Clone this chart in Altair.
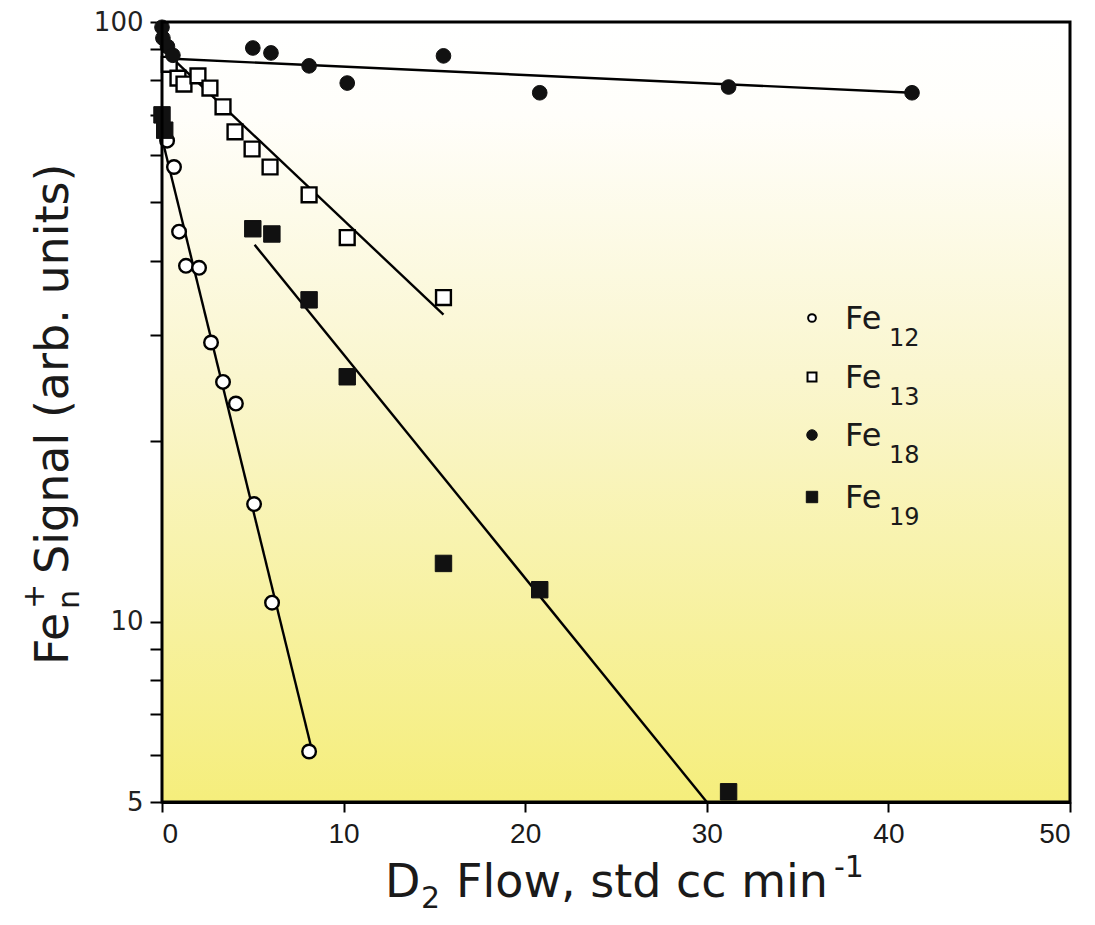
import altair as alt
import pandas as pd

# ---------------- data ----------------
fe12_x = [0.28, 0.66, 0.94, 1.32, 2.04, 2.7, 3.36, 4.07, 5.07, 6.06, 8.1]
fe12_y = [63.4, 57.3, 44.7, 39.2, 38.9, 29.2, 25.1, 23.1, 15.7, 10.75, 6.07]

fe13_x = [0.4, 0.88, 1.21, 1.98, 2.64, 3.36, 4.02, 4.96, 5.95, 8.1, 10.2, 15.5]
fe13_y = [85, 80.6, 78.8, 81.3, 77.6, 72.2, 65.6, 61.4, 57.3, 51.5, 43.7, 34.7]

fe18_x = [0, 0.05, 0.3, 0.6, 5.0, 6.0, 8.1, 10.2, 15.5, 20.8, 31.2, 41.3]
fe18_y = [98, 94, 91, 88, 90.5, 88.8, 84.5, 79.1, 87.8, 76.2, 77.9, 76.2]

fe19_x = [0, 0.15, 5.0, 6.05, 8.1, 10.2, 15.5, 20.8, 31.2]
fe19_y = [70, 66, 45.2, 44.3, 34.4, 25.6, 12.5, 11.3, 5.2]

# fitted lines (end points)
fit12_x = [0.0, 8.2]
fit12_y = [64, 6.2]
fit13_x = [0.5, 15.5]
fit13_y = [87.4, 32.5]
fit18_x = [0.0, 41.3]
fit18_y = [87, 76.2]
fit19_x = [5.1, 30.0]
fit19_y = [42.5, 5.0]

x_ticks = [0, 10, 20, 30, 40, 50]
y_ticks = [5, 6, 7, 8, 9, 10, 20, 30, 40, 50, 60, 70, 80, 90, 100]

legend_subs = ["12", "13", "18", "19"]

# ---------------- tables ----------------
def mk(name, xs, ys):
    return pd.DataFrame({"series": name, "x": xs, "y": ys})

pts = pd.concat([mk("Fe12", fe12_x, fe12_y), mk("Fe13", fe13_x, fe13_y),
                 mk("Fe18", fe18_x, fe18_y), mk("Fe19", fe19_x, fe19_y)])
fits = pd.concat([mk("Fe12", fit12_x, fit12_y), mk("Fe13", fit13_x, fit13_y),
                  mk("Fe18", fit18_x, fit18_y), mk("Fe19", fit19_x, fit19_y)])

W, H = 908, 780
FONT = "DejaVu Sans"
INK = "#1a1a1a"

xscale = alt.Scale(domain=[0, 50], nice=False, zero=False)
yscale = alt.Scale(type="log", domain=[5, 100], nice=False)

X = alt.X("x:Q", scale=xscale,
          axis=alt.Axis(values=x_ticks, title=None, grid=False, tickSize=10, tickWidth=2,
                        tickColor="black", domainColor="black", domainWidth=3,
                        labelFont="Liberation Sans Narrow, Liberation Sans, sans-serif",
                        labelFontSize=28, labelColor=INK, labelPadding=8))
Y = alt.Y("y:Q", scale=yscale,
          axis=alt.Axis(values=y_ticks, title=None, grid=False, tickSize=12, tickWidth=2,
                        tickColor="black", domainColor="black", domainWidth=3,
                        labelExpr="indexof([5,10,100], datum.value) >= 0 ? format(datum.value, 'd') : ''",
                        labelFont=FONT, labelFontSize=26, labelColor="#222", labelPadding=7))

one = alt.Data(values=[{"a": 1}])

bg = alt.Chart(one).mark_rect(
    color=alt.Gradient(gradient="linear", x1=0, x2=0, y1=0, y2=1,
                       stops=[alt.GradientStop(offset=0, color="#ffffff"),
                              alt.GradientStop(offset=0.12, color="#fffefa"),
                              alt.GradientStop(offset=0.45, color="#faf6cf"),
                              alt.GradientStop(offset=1, color="#f5ee7c")])
).encode(x=alt.value(0), x2=alt.value(W), y=alt.value(0), y2=alt.value(H))

frame = alt.Chart(one).mark_rect(fillOpacity=0, stroke="black", strokeWidth=3).encode(
    x=alt.value(0), x2=alt.value(W), y=alt.value(0), y2=alt.value(H))

lines = alt.Chart(fits).mark_line(color="black", strokeWidth=2.4).encode(
    x=X, y=Y, detail="series:N")

def pts_layer(name, shape, open_, size):
    base = alt.Chart(pts).transform_filter(alt.datum.series == name)
    if open_:
        m = base.mark_point(shape=shape, filled=True, fill="white", fillOpacity=1,
                            stroke="black", strokeWidth=2.4, size=size, opacity=1)
    else:
        m = base.mark_point(shape=shape, filled=True, fill="#111", fillOpacity=1,
                            stroke="#111", strokeWidth=1, size=size, opacity=1)
    return m.encode(x=X, y=Y)

p12 = pts_layer("Fe12", "circle", True, 185)
p13 = pts_layer("Fe13", "square", True, 220)
p18 = pts_layer("Fe18", "circle", False, 215)
p19 = pts_layer("Fe19", "square", False, 270)

# ---------------- legend ----------------
leg_shapes = [("circle", True, 60), ("square", True, 80), ("circle", False, 110), ("square", False, 130)]
leg_marker_y = [296, 355, 413, 475]
leg_layers = []
for i, sub in enumerate(legend_subs):
    shp, op, sz = leg_shapes[i]
    if op:
        mkr = alt.Chart(one).mark_point(shape=shp, filled=True, fill="white", stroke="black",
                                        strokeWidth=2, size=sz, opacity=1)
    else:
        mkr = alt.Chart(one).mark_point(shape=shp, filled=True, fill="#111", stroke="#111",
                                        strokeWidth=1, size=sz, opacity=1)
    leg_layers.append(mkr.encode(x=alt.value(650), y=alt.value(leg_marker_y[i])))
    base_y = leg_marker_y[i] + 11
    leg_layers.append(alt.Chart(one).mark_text(text="Fe", font=FONT, fontSize=32, align="left",
                                               baseline="alphabetic", color=INK)
                      .encode(x=alt.value(683), y=alt.value(base_y)))
    leg_layers.append(alt.Chart(one).mark_text(text=sub, font=FONT, fontSize=24, align="left",
                                               baseline="alphabetic", color=INK)
                      .encode(x=alt.value(727), y=alt.value(base_y + 17)))

# ---------------- axis titles ----------------
def txt(t, x, y, size, angle=0):
    kw = dict(text=t, font=FONT, fontSize=size, align="left", baseline="alphabetic", color=INK)
    if angle:
        kw["angle"] = angle
    return alt.Chart(one).mark_text(**kw).encode(x=alt.value(x), y=alt.value(y))

xt = [
    txt("D", 223, 875, 46),
    txt("2", 259, 886, 30),
    txt("Flow, std cc min", 294, 875, 46),
    txt("-1", 672, 855, 30),
]
yt = [
    txt("Fe", -94, 643, 46, 270),
    txt("n", -83, 587, 30, 270),
    txt("+", -118, 587, 30, 270),
    txt("Signal (arb. units)", -94, 552, 46, 270),
]

chart = alt.layer(bg, lines, p12, p13, p18, p19, *leg_layers, *xt, *yt, frame).properties(
    width=W, height=H, autosize="none",
    padding={"left": 154, "top": 14, "right": 17, "bottom": 115},
).configure_view(stroke="black", strokeWidth=3).configure(background="white")

chart.save("out.html", embed_options={"renderer": "svg", "actions": False})
